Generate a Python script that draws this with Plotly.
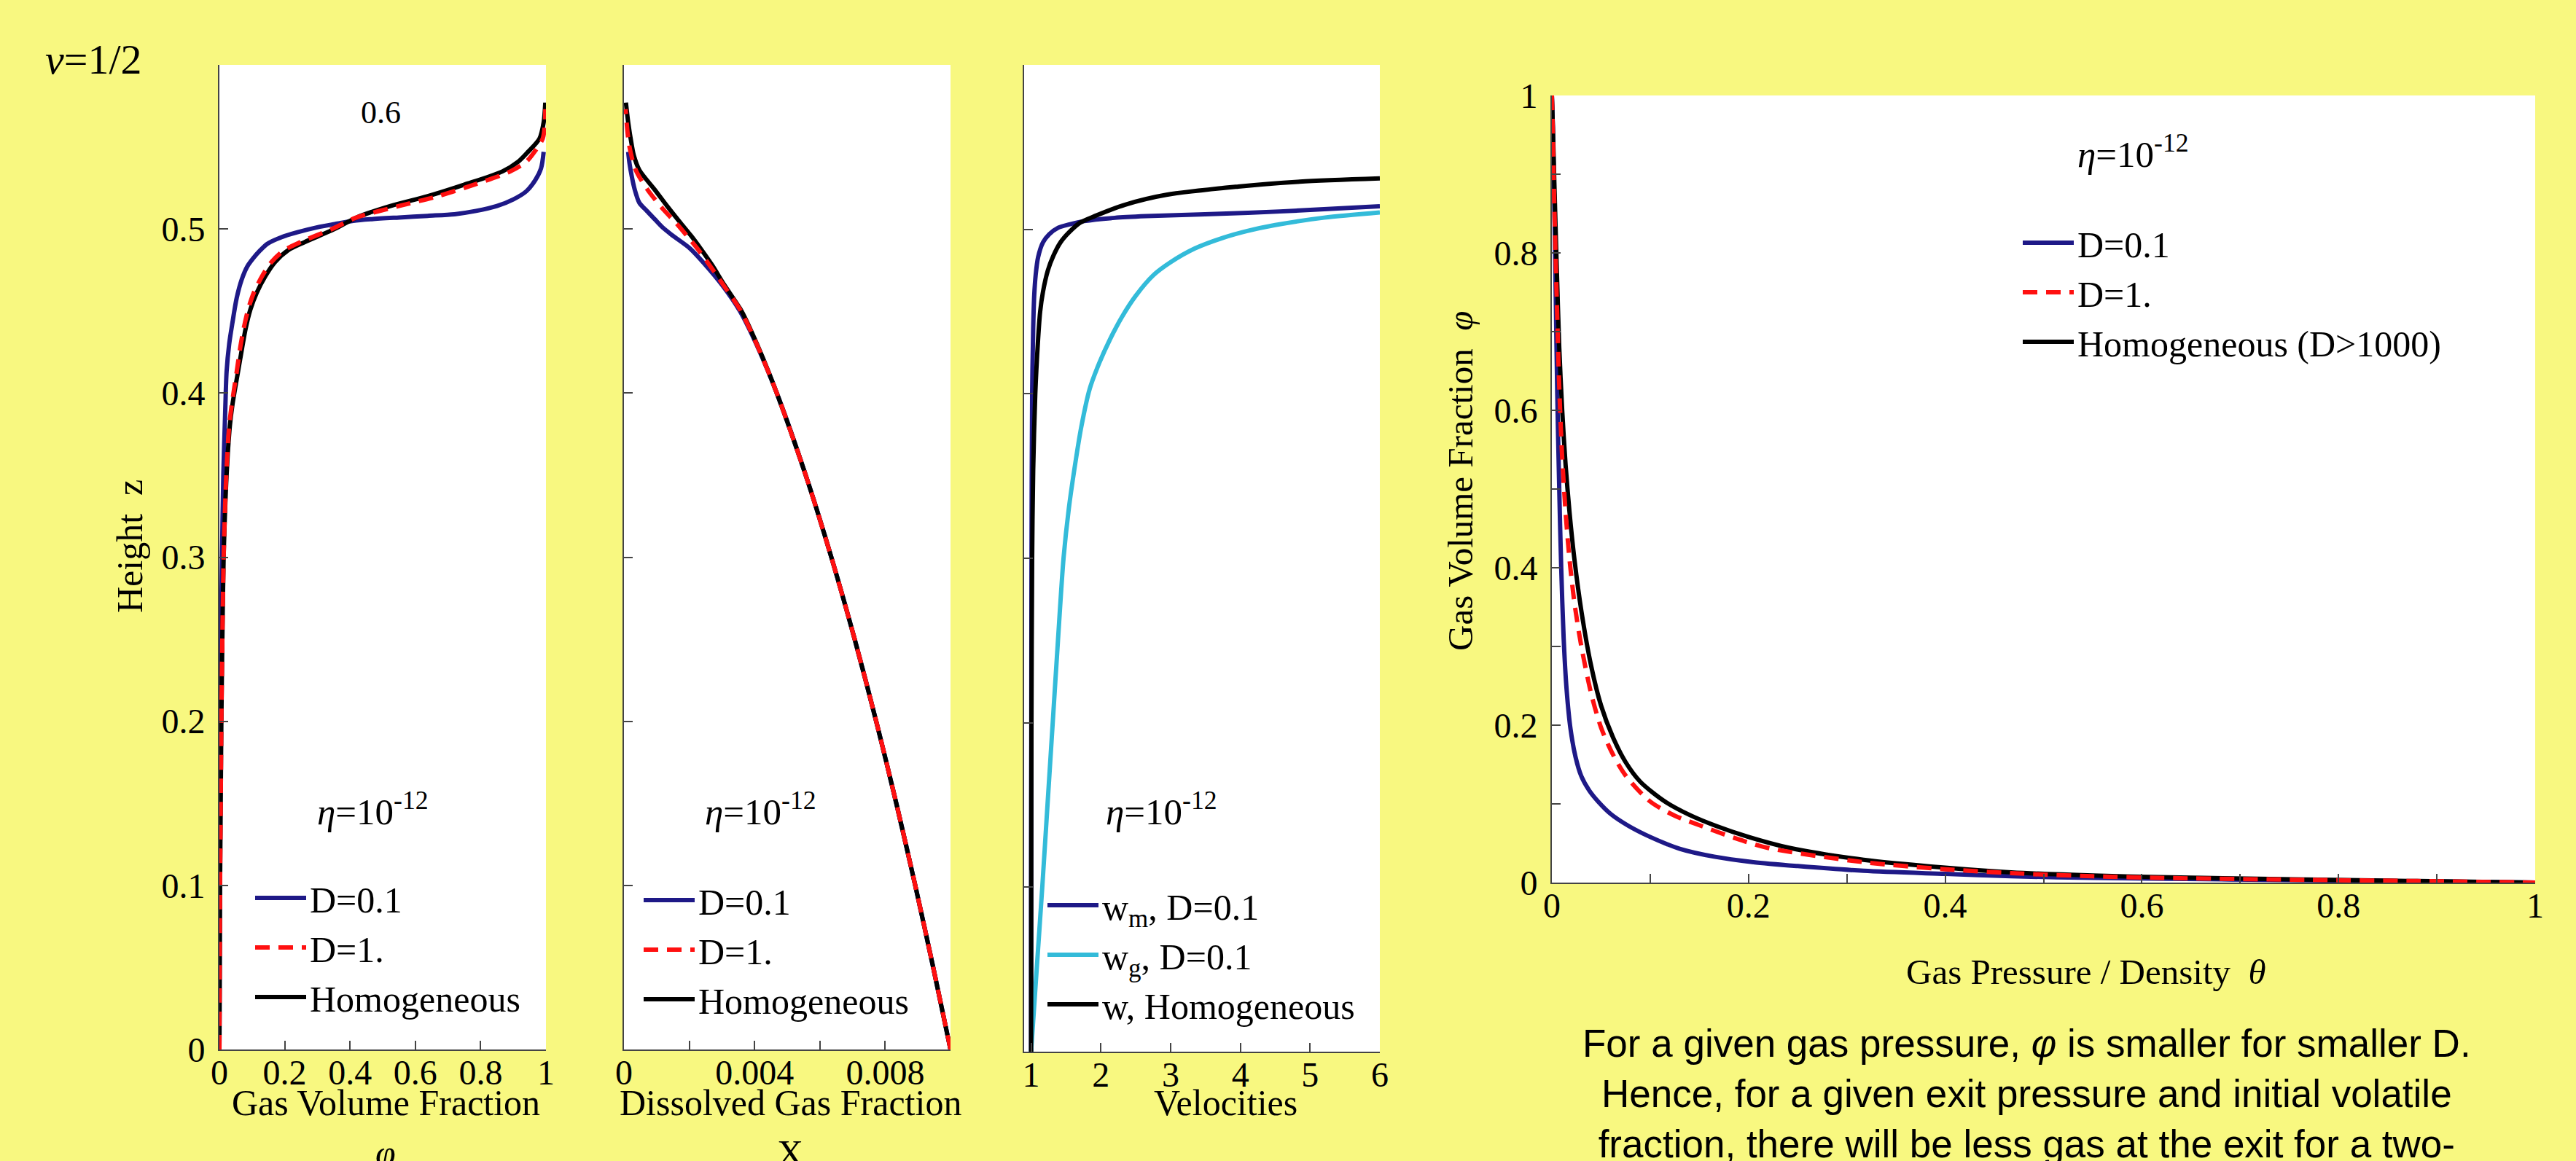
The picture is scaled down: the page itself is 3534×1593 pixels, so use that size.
import plotly.graph_objects as go

W, H = 3534, 1593
YELLOW = "#F8F880"
BLUE = "#1E1987"
RED = "#FF1010"
BLACK = "#000000"
CYAN = "#33BBD9"
SERIF = "Liberation Serif"
SANS = "Liberation Sans"

# ---------------- Panel 1: gas volume fraction phi vs height z ----------------
p1_blue_z = [0, 0.05, 0.1, 0.15, 0.2, 0.25, 0.3, 0.35, 0.39, 0.413, 0.43, 0.443, 0.458, 0.469, 0.477,
             0.482, 0.487, 0.491, 0.495, 0.498, 0.501, 0.503, 0.505, 0.506, 0.507, 0.508, 0.509, 0.511,
             0.514, 0.518, 0.523, 0.53, 0.537, 0.547]
p1_blue_phi = [0, 0.0005, 0.001, 0.002, 0.003, 0.005, 0.008, 0.012, 0.018, 0.022, 0.03, 0.04, 0.053, 0.068,
               0.085, 0.103, 0.125, 0.147, 0.19, 0.239, 0.3, 0.353, 0.41, 0.467, 0.55, 0.638, 0.72, 0.786,
               0.85, 0.9, 0.94, 0.968, 0.985, 0.993]
p1_black_z = [0, 0.05, 0.1, 0.15, 0.2, 0.25, 0.3, 0.35, 0.38, 0.393, 0.413, 0.428, 0.439, 0.451, 0.461,
              0.471, 0.48, 0.487, 0.492, 0.5, 0.507, 0.514, 0.52, 0.527, 0.535, 0.541, 0.547, 0.555, 0.565, 0.577]
p1_black_phi = [0, 0.001, 0.002, 0.004, 0.006, 0.009, 0.013, 0.022, 0.032, 0.04, 0.057, 0.07, 0.08, 0.095,
                0.114, 0.14, 0.171, 0.21, 0.261, 0.353, 0.42, 0.524, 0.638, 0.75, 0.866, 0.915, 0.945, 0.98,
                0.993, 0.998]
p1_red_z = [0, 0.05, 0.1, 0.15, 0.2, 0.25, 0.3, 0.35, 0.38, 0.393, 0.413, 0.428, 0.439, 0.451, 0.461,
            0.471, 0.48, 0.487, 0.492, 0.5, 0.507, 0.514, 0.52, 0.527, 0.535, 0.541, 0.547, 0.555, 0.565, 0.573]
p1_red_phi = [0, 0.001, 0.002, 0.004, 0.006, 0.009, 0.013, 0.021, 0.03, 0.038, 0.053, 0.064, 0.074, 0.088,
              0.105, 0.13, 0.16, 0.198, 0.248, 0.345, 0.42, 0.55, 0.67, 0.78, 0.89, 0.94, 0.965, 0.99,
              0.997, 0.998]

# ---------------- Panel 2: dissolved gas fraction X vs z ----------------
p2_blue_z = [0, 0.05, 0.1, 0.15, 0.2, 0.25, 0.3, 0.35, 0.4, 0.43, 0.45, 0.466, 0.478, 0.488, 0.496,
             0.501, 0.506, 0.511, 0.516, 0.524, 0.532, 0.54, 0.547]
p2_blue_x = [0.01, 0.00947, 0.00892, 0.00834, 0.007725, 0.007065, 0.00635, 0.005565, 0.00468, 0.00405,
             0.00355, 0.003, 0.0025, 0.00203, 0.00149, 0.00118, 0.00094, 0.0007, 0.00047, 0.00033,
             0.00024, 0.00017, 0.00013]
p2_black_z = [0, 0.05, 0.1, 0.15, 0.2, 0.25, 0.3, 0.35, 0.4, 0.43, 0.45, 0.466, 0.478, 0.488, 0.496,
              0.504, 0.514, 0.524, 0.536, 0.545, 0.551, 0.565, 0.577]
p2_black_x = [0.01, 0.00947, 0.00892, 0.00834, 0.007725, 0.007065, 0.00635, 0.005565, 0.00468, 0.00407,
              0.0036, 0.00307, 0.0027, 0.00235, 0.00205, 0.00172, 0.00132, 0.00094, 0.00047, 0.0003,
              0.00024, 0.00013, 0.00006]
p2_red_z = [0, 0.05, 0.1, 0.15, 0.2, 0.25, 0.3, 0.35, 0.4, 0.43, 0.45, 0.466, 0.478, 0.488, 0.496,
            0.504, 0.512, 0.524, 0.536, 0.551, 0.573]
p2_red_x = [0.01, 0.00947, 0.00892, 0.00834, 0.007725, 0.007065, 0.00635, 0.005565, 0.00468, 0.00406,
            0.00358, 0.00304, 0.00262, 0.00225, 0.00192, 0.00158, 0.0012, 0.00072, 0.00036, 0.00016, 0.00005]

# ---------------- Panel 3: velocities vs z ----------------
p3_wm_z = [0, 0.1, 0.2, 0.3, 0.4, 0.44, 0.46, 0.472, 0.483, 0.492, 0.497, 0.501, 0.503, 0.505, 0.507,
           0.508, 0.510, 0.512, 0.514]
p3_wm_v = [1.0, 1.0, 1.003, 1.006, 1.015, 1.03, 1.045, 1.065, 1.1, 1.17, 1.26, 1.39, 1.55, 1.76, 2.2,
           2.65, 4.11, 5.1, 6.0]
p3_wg_z = [0, 0.05, 0.1, 0.15, 0.2, 0.25, 0.3, 0.33, 0.354, 0.38, 0.403, 0.419, 0.433, 0.4466, 0.4596,
           0.472, 0.480, 0.4884, 0.4948, 0.499, 0.5026, 0.5071, 0.5103]
p3_wg_v = [1.0, 1.08, 1.16, 1.235, 1.31, 1.385, 1.465, 1.54, 1.62, 1.72, 1.84, 1.98, 2.13, 2.3, 2.5,
           2.75, 3.0, 3.35, 3.75, 4.1, 4.5, 5.2, 6.0]
p3_w_z = [0, 0.1, 0.2, 0.3, 0.354, 0.4, 0.433, 0.45, 0.462, 0.475, 0.484, 0.492, 0.498, 0.504, 0.508,
          0.515, 0.521, 0.526, 0.529, 0.531]
p3_w_v = [1.0, 1.002, 1.005, 1.015, 1.03, 1.06, 1.1, 1.13, 1.17, 1.24, 1.32, 1.42, 1.54, 1.7, 1.91,
          2.35, 2.94, 3.97, 4.85, 6.0]

# ---------------- Panel 4: phi vs gas pressure / density theta ----------------
p4_blue_theta = [0, 0.001, 0.0025, 0.004, 0.0055, 0.0075, 0.0095, 0.012, 0.015, 0.019, 0.024, 0.03,
                 0.038, 0.047, 0.06, 0.078, 0.1, 0.13, 0.165, 0.205, 0.25, 0.317, 0.4, 0.467, 0.55,
                 0.69, 0.85, 1.0]
p4_blue_phi = [1, 0.96, 0.86, 0.74, 0.62, 0.5, 0.4, 0.31, 0.245, 0.195, 0.16, 0.135, 0.117, 0.103,
               0.087, 0.072, 0.058, 0.043, 0.033, 0.026, 0.021, 0.015, 0.011, 0.008, 0.006, 0.004,
               0.002, 0.0]
p4_red_theta = [0, 0.001, 0.0025, 0.005, 0.0075, 0.0105, 0.014, 0.018, 0.023, 0.03, 0.04, 0.05, 0.062,
                0.075, 0.1, 0.125, 0.152, 0.185, 0.22, 0.317, 0.4, 0.467, 0.55, 0.617, 0.766, 0.88, 1.0]
p4_red_phi = [1, 0.95, 0.86, 0.74, 0.63, 0.54, 0.47, 0.41, 0.355, 0.3, 0.24, 0.197, 0.163, 0.136,
              0.103, 0.085, 0.072, 0.057, 0.044, 0.026, 0.017, 0.012, 0.008, 0.006, 0.0035, 0.002, 0.0]
p4_black_theta = [0, 0.001, 0.0025, 0.005, 0.0075, 0.0105, 0.014, 0.018, 0.023, 0.03, 0.04, 0.05, 0.062,
                  0.075, 0.09, 0.115, 0.14, 0.167, 0.2, 0.242, 0.317, 0.4, 0.467, 0.55, 0.617, 0.766,
                  0.88, 1.0]
p4_black_phi = [1, 0.96, 0.89, 0.78, 0.68, 0.6, 0.53, 0.47, 0.41, 0.345, 0.275, 0.225, 0.185, 0.153,
                0.128, 0.103, 0.086, 0.072, 0.058, 0.044, 0.029, 0.019, 0.013, 0.009, 0.007, 0.004,
                0.002, 0.0]

legend_p1 = ["D=0.1", "D=1.", "Homogeneous"]
legend_p3 = ["w<sub>m</sub>, D=0.1", "w<sub>g</sub>, D=0.1", "w, Homogeneous"]
legend_p4 = ["D=0.1", "D=1.", "Homogeneous (D>1000)"]

LW = 6
DASH = "20px,12px"


def xd(a, b):
    return [a / W, b / W]


def yd(top, bottom):
    return [1 - bottom / H, 1 - top / H]


fig = go.Figure()


def add(x, y, name, color, axis, legend, rank, dash="solid"):
    fig.add_trace(go.Scatter(
        x=x, y=y, mode="lines", name=name,
        line=dict(color=color, width=LW, dash=dash, shape="spline", smoothing=0.8),
        xaxis="x" + axis, yaxis="y" + axis, legend=legend, legendrank=rank,
        hoverinfo="skip"))


# panel 1
add(p1_blue_phi, p1_blue_z, legend_p1[0], BLUE, "", "legend", 1)
add(p1_black_phi, p1_black_z, legend_p1[2], BLACK, "", "legend", 3)
add(p1_red_phi, p1_red_z, legend_p1[1], RED, "", "legend", 2, DASH)
# panel 2
add(p2_blue_x, p2_blue_z, legend_p1[0], BLUE, "2", "legend2", 1)
add(p2_black_x, p2_black_z, legend_p1[2], BLACK, "2", "legend2", 3)
add(p2_red_x, p2_red_z, legend_p1[1], RED, "2", "legend2", 2, DASH)
# panel 3
add(p3_wm_v, p3_wm_z, legend_p3[0], BLUE, "3", "legend3", 1)
add(p3_wg_v, p3_wg_z, legend_p3[1], CYAN, "3", "legend3", 2)
add(p3_w_v, p3_w_z, legend_p3[2], BLACK, "3", "legend3", 3)
# panel 4
add(p4_blue_theta, p4_blue_phi, legend_p4[0], BLUE, "4", "legend4", 1)
add(p4_black_theta, p4_black_phi, legend_p4[2], BLACK, "4", "legend4", 3)
add(p4_red_theta, p4_red_phi, legend_p4[1], RED, "4", "legend4", 2, DASH)

AX = dict(showline=True, linecolor="#444444", linewidth=2, mirror=False, ticks="inside", ticklen=12,
          tickwidth=2, tickcolor="#444444", showgrid=False, zeroline=False, automargin=False,
          tickfont=dict(family=SERIF, size=48, color="black"))
MINOR = dict(ticks="inside", ticklen=12, tickwidth=2, tickcolor="#444444", showgrid=False)
XSO = -12
YSO = 8

z_ticks = [0, 0.1, 0.2, 0.3, 0.4, 0.5, 0.6]
z_ticktext = ["0", "0.1", "0.2", "0.3", "0.4", "0.5", ""]

fig.update_layout(
    width=W, height=H, autosize=False,
    margin=dict(l=0, r=0, t=0, b=0, pad=0, autoexpand=False),
    paper_bgcolor=YELLOW, plot_bgcolor="white",
    xaxis=dict(AX, domain=xd(301, 749), range=[0, 1], dtick=0.2, anchor="y", ticklabelstandoff=XSO),
    yaxis=dict(AX, domain=yd(89, 1440), range=[0, 0.6], tickvals=z_ticks, ticktext=z_ticktext,
               anchor="x", ticklabelstandoff=YSO),
    xaxis2=dict(AX, domain=xd(856, 1304), range=[0, 0.01], tickvals=[0, 0.004, 0.008],
                ticktext=["0", "0.004", "0.008"], minor=dict(MINOR, dtick=0.002, tick0=0),
                anchor="y2", ticklabelstandoff=XSO),
    yaxis2=dict(AX, domain=yd(89, 1440), range=[0, 0.6], tickvals=z_ticks, showticklabels=False, anchor="x2"),
    xaxis3=dict(AX, domain=xd(1405, 1893), range=[0.9, 6.0], tick0=1, dtick=1, anchor="y3",
                ticklabelstandoff=XSO),
    yaxis3=dict(AX, domain=yd(89, 1443), range=[0, 0.6], tickvals=z_ticks, showticklabels=False, anchor="x3"),
    xaxis4=dict(AX, domain=xd(2129, 3478), range=[0, 1], dtick=0.2, minor=dict(MINOR, dtick=0.1),
                anchor="y4", ticklabelstandoff=XSO),
    yaxis4=dict(AX, domain=yd(131, 1211), range=[0, 1], dtick=0.2, minor=dict(MINOR, dtick=0.1),
                anchor="x4", ticklabelstandoff=YSO),
    showlegend=True,
)

LEG = dict(xanchor="left", yanchor="middle", bgcolor="rgba(0,0,0,0)", borderwidth=0, itemwidth=70,
           font=dict(family=SERIF, size=50, color="black"), tracegroupgap=0, itemclick=False,
           itemdoubleclick=False)
fig.update_layout(
    legend=dict(LEG, x=345 / W, y=1 - 1300 / H),
    legend2=dict(LEG, x=878 / W, y=1 - 1303 / H),
    legend3=dict(LEG, x=1432 / W, y=1 - 1310 / H),
    legend4=dict(LEG, x=2770 / W, y=1 - 401 / H),
)


def ann(text, x, y, size, xanchor="center", yanchor="middle", family=SERIF, angle=0, align="center"):
    fig.add_annotation(text=text, x=x / W, y=1 - y / H, xref="paper", yref="paper", showarrow=False,
                       xanchor=xanchor, yanchor=yanchor, textangle=angle, align=align,
                       font=dict(family=family, size=size, color="black"))


eta = "<i>η</i>=10<sup>-12</sup>"
ann("<i>ν</i>=1/2", 60, 82, 58, xanchor="left")
ann("0.6", 522, 154, 44)
ann(eta, 433, 1110, 51, xanchor="left")
ann(eta, 965, 1110, 51, xanchor="left")
ann(eta, 1515, 1110, 51, xanchor="left")
ann(eta, 2848, 208, 51, xanchor="left")

ann("Height  z", 178, 750, 50, angle=-90)
ann("Gas Volume Fraction", 529, 1513, 50)
ann("<i>φ</i>", 529, 1582, 50)
ann("Dissolved Gas Fraction", 1084, 1513, 50)
ann("X", 1084, 1582, 50)
ann("Velocities", 1681, 1513, 50)
ann("Gas Pressure / Density  <i>θ</i>", 2862, 1333, 49)
ann("Gas Volume Fraction  <i>φ</i>", 2003, 660, 49, angle=-90)

ann("For a given gas pressure, <i>φ</i> is smaller for smaller D.<br>"
    "Hence, for a given exit pressure and initial volatile<br>"
    "fraction, there will be less gas at the exit for a two-",
    2780, 1500, 53, family=SANS)

fig.write_html(
    "out.html",
    config={"displayModeBar": False, "staticPlot": True},
    post_script="document.body.style.margin='0';document.body.style.padding='0';"
                "document.body.style.background='" + YELLOW + "';"
                "document.documentElement.style.background='" + YELLOW + "';",
)
